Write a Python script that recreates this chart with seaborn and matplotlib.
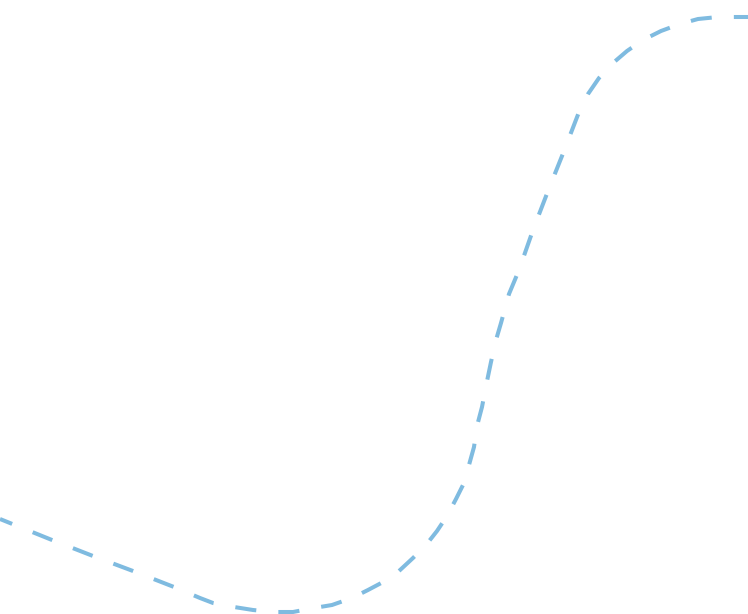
import numpy as np
import pandas as pd
import matplotlib
matplotlib.use("Agg")
import matplotlib.pyplot as plt
import seaborn as sns

# points (x across, level upward)
x_vals = [0, 52, 93, 133, 174, 200, 213, 234, 253, 274, 293, 314, 332, 352,
          368, 385, 399, 413, 426, 437, 447, 456, 464, 469, 474, 477, 482,
          486, 491, 496, 501, 509, 519, 533, 548, 564, 579, 588, 599, 613,
          627, 643, 661, 680, 698, 718, 748]
y_pix = [519, 540, 556, 571, 587, 598, 603, 607, 610, 612, 612, 608, 605, 598,
         590, 581, 571, 558, 545, 531, 516, 499, 483, 465, 447, 426, 407,
         386, 362, 340, 323, 294, 270, 230, 191, 151, 112, 94, 78, 63,
         51, 40, 31, 24, 19, 17, 17]
level = [614 - v for v in y_pix]

df = pd.DataFrame({"x": x_vals, "level": level})

sns.set_style("white")
fig = plt.figure(figsize=(7.48, 6.14), dpi=100)
ax = fig.add_axes([0, 0, 1, 1])

sns.lineplot(data=df, x="x", y="level", sort=False, color="#7fbbe0",
             linewidth=2.9, ax=ax)
ax.lines[0].set_linestyle((2, (5.25, 5.5)))
ax.lines[0].set_dash_capstyle("butt")

ax.set_xlim(0, 748)
ax.set_ylim(0, 614)
ax.axis("off")

fig.savefig("out.png", dpi=100)
